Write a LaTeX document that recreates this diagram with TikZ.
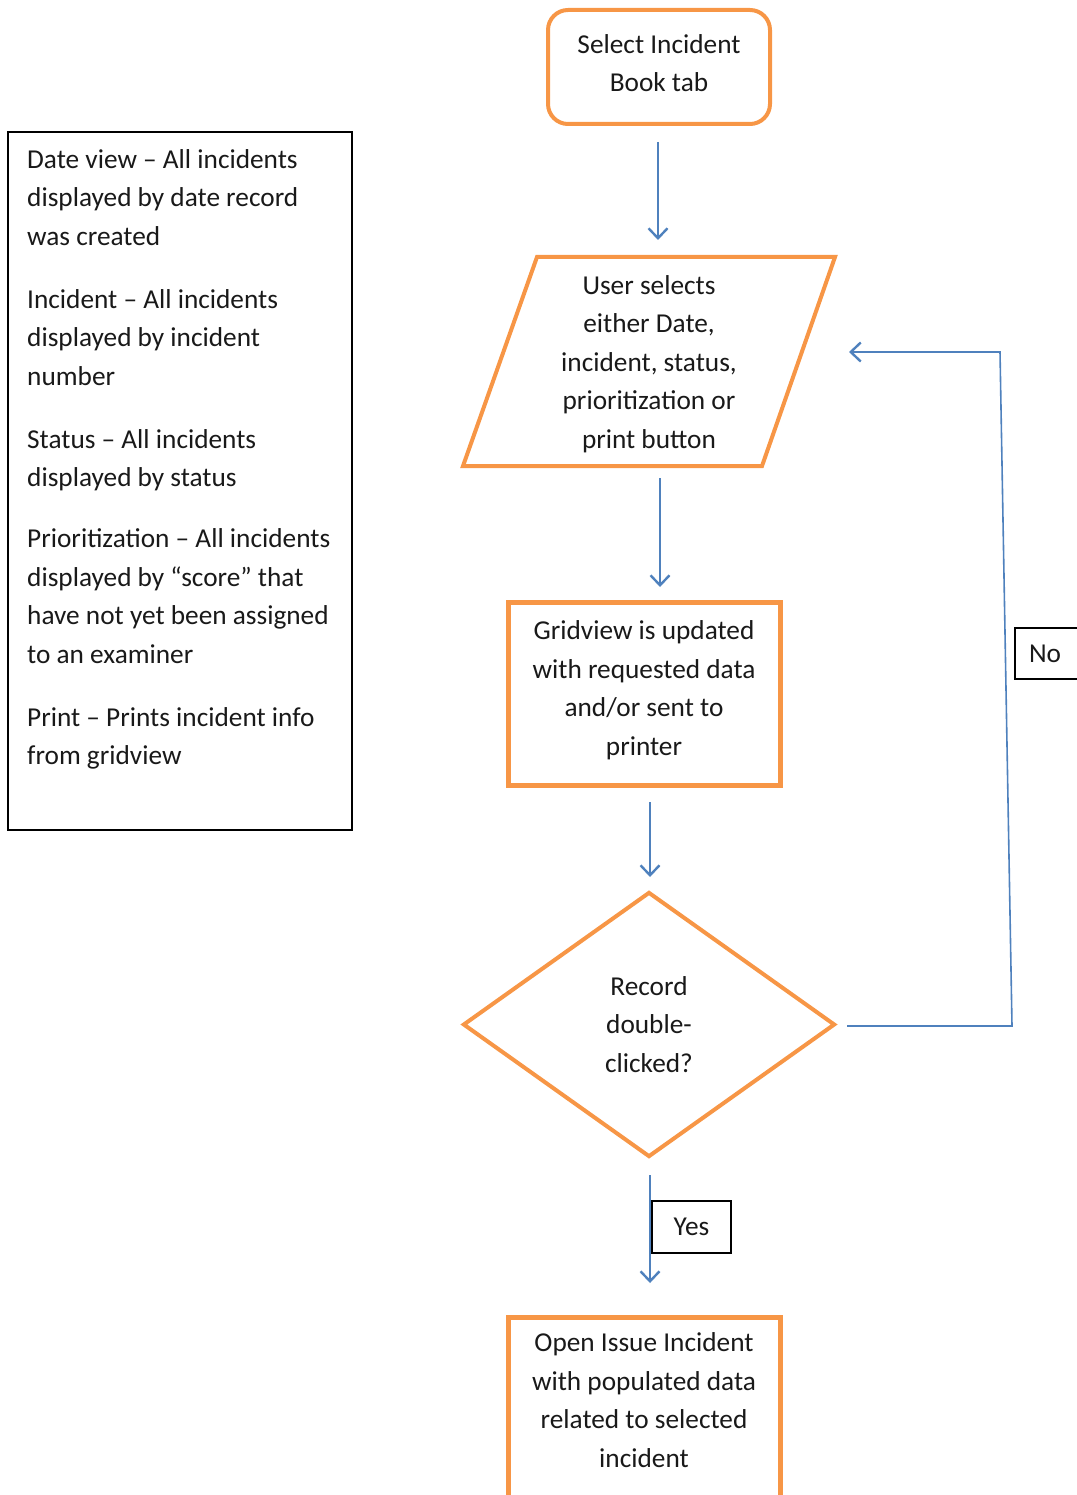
\documentclass[tikz,border=0pt]{standalone}
\usepackage{fontspec}
\setmainfont{Carlito}
\usetikzlibrary{shapes.geometric,arrows.meta}
\definecolor{boxorange}{HTML}{F79646}
\definecolor{flowblue}{HTML}{4F81BD}
\begin{document}
\begin{tikzpicture}[x=1pt,y=-1pt,
  txt/.style={font=\fontsize{27.3}{38.5}\selectfont, text=black!90, inner sep=0pt},
  startbox/.style={draw=boxorange, line width=4pt, rounded corners=20pt, minimum width=222pt, minimum height=114pt, align=center, txt},
  procbox/.style={draw=boxorange, line width=5pt, minimum width=272pt, align=center, txt},
  decbox/.style={diamond, draw=boxorange, line width=4pt, minimum width=372pt, minimum height=265pt, align=center, txt},
  inbox/.style={draw=boxorange, line width=4pt, line join=miter},
  tagbox/.style={draw=black, line width=2pt, fill=white, txt},
  flow/.style={draw=flowblue, line width=2pt, -{Straight Barb[length=10pt,width=19pt,line width=2.4pt]}},
  backflow/.style={draw=flowblue, line width=1.6pt, -{Straight Barb[length=10pt,width=19pt,line width=2.4pt]}}
]
\useasboundingbox (0,0) rectangle (1076,1495);

% legend box on the left
\draw[black, line width=2pt] (8,132) rectangle (352,830);
\node[txt, align=left, anchor=north west] (legend) at (27,149) {%
Date view – All incidents\\
displayed by date record\\
was created\\[24.5pt]
Incident – All incidents\\
displayed by incident\\
number\\[24.5pt]
Status – All incidents\\
displayed by status\\[22.5pt]
Prioritization – All incidents\\
displayed by “score” that\\
have not yet been assigned\\
to an examiner\\[24.5pt]
Print – Prints incident info\\
from gridview};

% flow shapes
\node[startbox] (start) at (659,67) {};
\node[txt, align=center] (starttext) at (659,63) {Select Incident\\Book tab};

\draw[inbox] (537,257) -- (835,257) -- (762,466) -- (463,466) -- cycle;
\node[txt, align=center] (select) at (649,364) {User selects\\either Date,\\incident, status,\\prioritization or\\print button};

\node[procbox, minimum height=183pt] (grid) at (644,693.5) {};
\node[txt, align=center] (gridtext) at (644,690) {Gridview is updated\\with requested data\\and/or sent to\\printer};

\node[decbox] (dec) at (649,1024.5) {Record\\double-\\clicked?};

\node[procbox, minimum height=190pt, anchor=north] (open) at (644,1315) {};
\node[txt, align=center] (opentext) at (644,1400) {Open Issue Incident\\with populated data\\related to selected\\incident};

% connector end points
\coordinate (a1s) at (658,142);  \coordinate (a1e) at (658,240);
\coordinate (a2s) at (660,478);  \coordinate (a2e) at (660,587);
\coordinate (a3s) at (650,802);  \coordinate (a3e) at (650,877);
\coordinate (a4s) at (650,1175); \coordinate (a4e) at (650,1283);
\coordinate (nos) at (847,1026); \coordinate (noa) at (1012,1026);
\coordinate (nob) at (1000,352); \coordinate (noe) at (849,352);

\draw[flow] (a1s) -- (a1e);
\draw[flow] (a2s) -- (a2e);
\draw[flow] (a3s) -- (a3e);
\draw[flow] (a4s) -- (a4e);
\draw[backflow] (nos) -- (noa) -- (nob) -- (noe);

% branch labels
\node[tagbox, minimum width=79pt, minimum height=52pt, anchor=north west] (yes) at (651,1200) {Yes};
\node[tagbox, minimum width=100pt, minimum height=51pt, anchor=north west, text width=80pt, align=left] (no) at (1014,627) {\hspace*{4pt}No};
\end{tikzpicture}
\end{document}
